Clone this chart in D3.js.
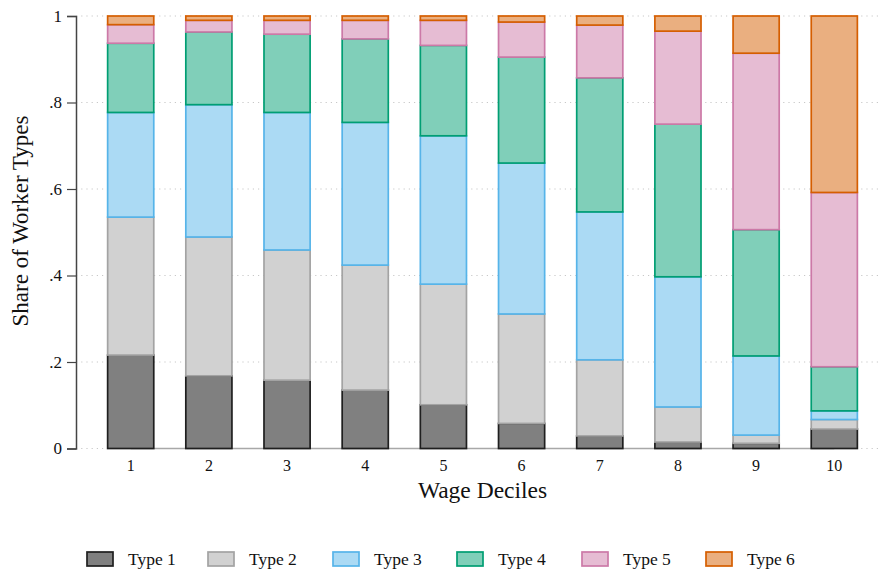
<!DOCTYPE html>
<html>
<head>
<meta charset="utf-8">
<script src="https://cdn.jsdelivr.net/npm/d3@7"></script>
<style>
  html, body { margin: 0; padding: 0; background: #fff; }
  svg { display: block; font-family: "Liberation Serif", "DejaVu Serif", serif; }
</style>
</head>
<body>
<svg id="chart" width="880" height="569"></svg>
<script>
// Wage deciles on the x axis
const deciles = ["1", "2", "3", "4", "5", "6", "7", "8", "9", "10"];
const typeNames = ["Type 1", "Type 2", "Type 3", "Type 4", "Type 5", "Type 6"];

// Share of each worker type within a decile (stacked bottom to top)
const type1 = [0.216, 0.168, 0.158, 0.135, 0.101, 0.058, 0.029, 0.015, 0.012, 0.045];
const type2 = [0.319, 0.321, 0.301, 0.289, 0.279, 0.253, 0.176, 0.081, 0.019, 0.022];
const type3 = [0.242, 0.306, 0.318, 0.330, 0.343, 0.349, 0.342, 0.301, 0.183, 0.020];
const type4 = [0.160, 0.168, 0.181, 0.193, 0.209, 0.245, 0.310, 0.353, 0.292, 0.102];
const type5 = [0.043, 0.027, 0.032, 0.043, 0.058, 0.081, 0.122, 0.215, 0.408, 0.403];
const type6 = [0.020, 0.010, 0.010, 0.010, 0.010, 0.014, 0.021, 0.035, 0.086, 0.408];

const yTicks = [0, 0.2, 0.4, 0.6, 0.8, 1];
const yTickLabels = ["0", ".2", ".4", ".6", ".8", "1"];

const strokeColors = ["#1f1f1f", "#a3a3a3", "#56b4e9", "#009e73", "#cc79a7", "#d55e00"];
const fillColors   = ["#808080", "#d1d1d1", "#abdaf4", "#80cfb9", "#e6bcd3", "#eaaf80"];

const series = [type1, type2, type3, type4, type5, type6];
const rows = deciles.map((d, i) => {
  const r = { decile: d };
  typeNames.forEach((t, k) => { r[t] = series[k][i]; });
  return r;
});

const svg = d3.select("#chart");
const plot = { left: 76, right: 880, top: 16, bottom: 448.5 };

const x = d3.scaleBand()
  .domain(deciles)
  .range([92, 873])
  .paddingInner(0.41)
  .paddingOuter(0.2);

const y = d3.scaleLinear().domain([0, 1]).range([plot.bottom, plot.top]);

// dotted horizontal gridlines
svg.append("g")
  .selectAll("line")
  .data(yTicks)
  .join("line")
  .attr("x1", plot.left)
  .attr("x2", plot.right)
  .attr("y1", d => y(d))
  .attr("y2", d => y(d))
  .attr("stroke", "#c8c8c8")
  .attr("stroke-width", 1)
  .attr("stroke-dasharray", "1.2,4");

// baseline spanning the category centres
svg.append("line")
  .attr("x1", x(deciles[0]) + x.bandwidth() / 2)
  .attr("x2", x(deciles[deciles.length - 1]) + x.bandwidth() / 2)
  .attr("y1", y(0))
  .attr("y2", y(0))
  .attr("stroke", "#a8a8a8")
  .attr("stroke-width", 1.5);

// stacked bars
const stacked = d3.stack().keys(typeNames)(rows);
svg.append("g")
  .selectAll("g")
  .data(stacked)
  .join("g")
  .attr("fill", (d, i) => fillColors[i])
  .attr("stroke", (d, i) => strokeColors[i])
  .attr("stroke-width", 1.7)
  .selectAll("rect")
  .data(d => d)
  .join("rect")
  .attr("x", d => x(d.data.decile))
  .attr("width", x.bandwidth())
  .attr("y", d => y(d[1]))
  .attr("height", d => Math.max(0, y(d[0]) - y(d[1])));

// y axis
const yAxis = d3.axisLeft(y)
  .tickValues(yTicks)
  .tickFormat((d, i) => yTickLabels[i])
  .tickSize(9)
  .tickPadding(5);
const gy = svg.append("g")
  .attr("transform", `translate(${plot.left},0)`)
  .call(yAxis);
gy.select(".domain").attr("stroke", "#444").attr("stroke-width", 1.5);
gy.selectAll(".tick line").attr("stroke", "#444").attr("stroke-width", 1.2);
gy.selectAll(".tick text")
  .attr("font-family", "'Liberation Serif', serif")
  .attr("font-size", 17)
  .attr("fill", "#111");

// x axis labels
const xAxis = d3.axisBottom(x).tickSize(0).tickPadding(11);
const gx = svg.append("g")
  .attr("transform", `translate(0,${plot.bottom})`)
  .call(xAxis);
gx.select(".domain").remove();
gx.selectAll(".tick text")
  .attr("font-family", "'Liberation Serif', serif")
  .attr("font-size", 16)
  .attr("fill", "#111");

// axis titles
svg.append("text")
  .attr("x", 482.5)
  .attr("y", 498)
  .attr("text-anchor", "middle")
  .attr("font-size", 23.5)
  .attr("fill", "#111")
  .text("Wage Deciles");

svg.append("text")
  .attr("transform", "translate(28,221) rotate(-90)")
  .attr("text-anchor", "middle")
  .attr("font-size", 23)
  .attr("fill", "#111")
  .text("Share of Worker Types");

// legend
const legendX = [87, 208, 333, 457, 582, 706];
const legend = svg.append("g")
  .selectAll("g")
  .data(typeNames)
  .join("g")
  .attr("transform", (d, i) => `translate(${legendX[i]},552)`);
legend.append("rect")
  .attr("width", 26)
  .attr("height", 14)
  .attr("fill", (d, i) => fillColors[i])
  .attr("stroke", (d, i) => strokeColors[i])
  .attr("stroke-width", 1.7);
legend.append("text")
  .attr("x", 41)
  .attr("y", 12.5)
  .attr("font-size", 17.5)
  .attr("fill", "#111")
  .text(d => d);
</script>
</body>
</html>
